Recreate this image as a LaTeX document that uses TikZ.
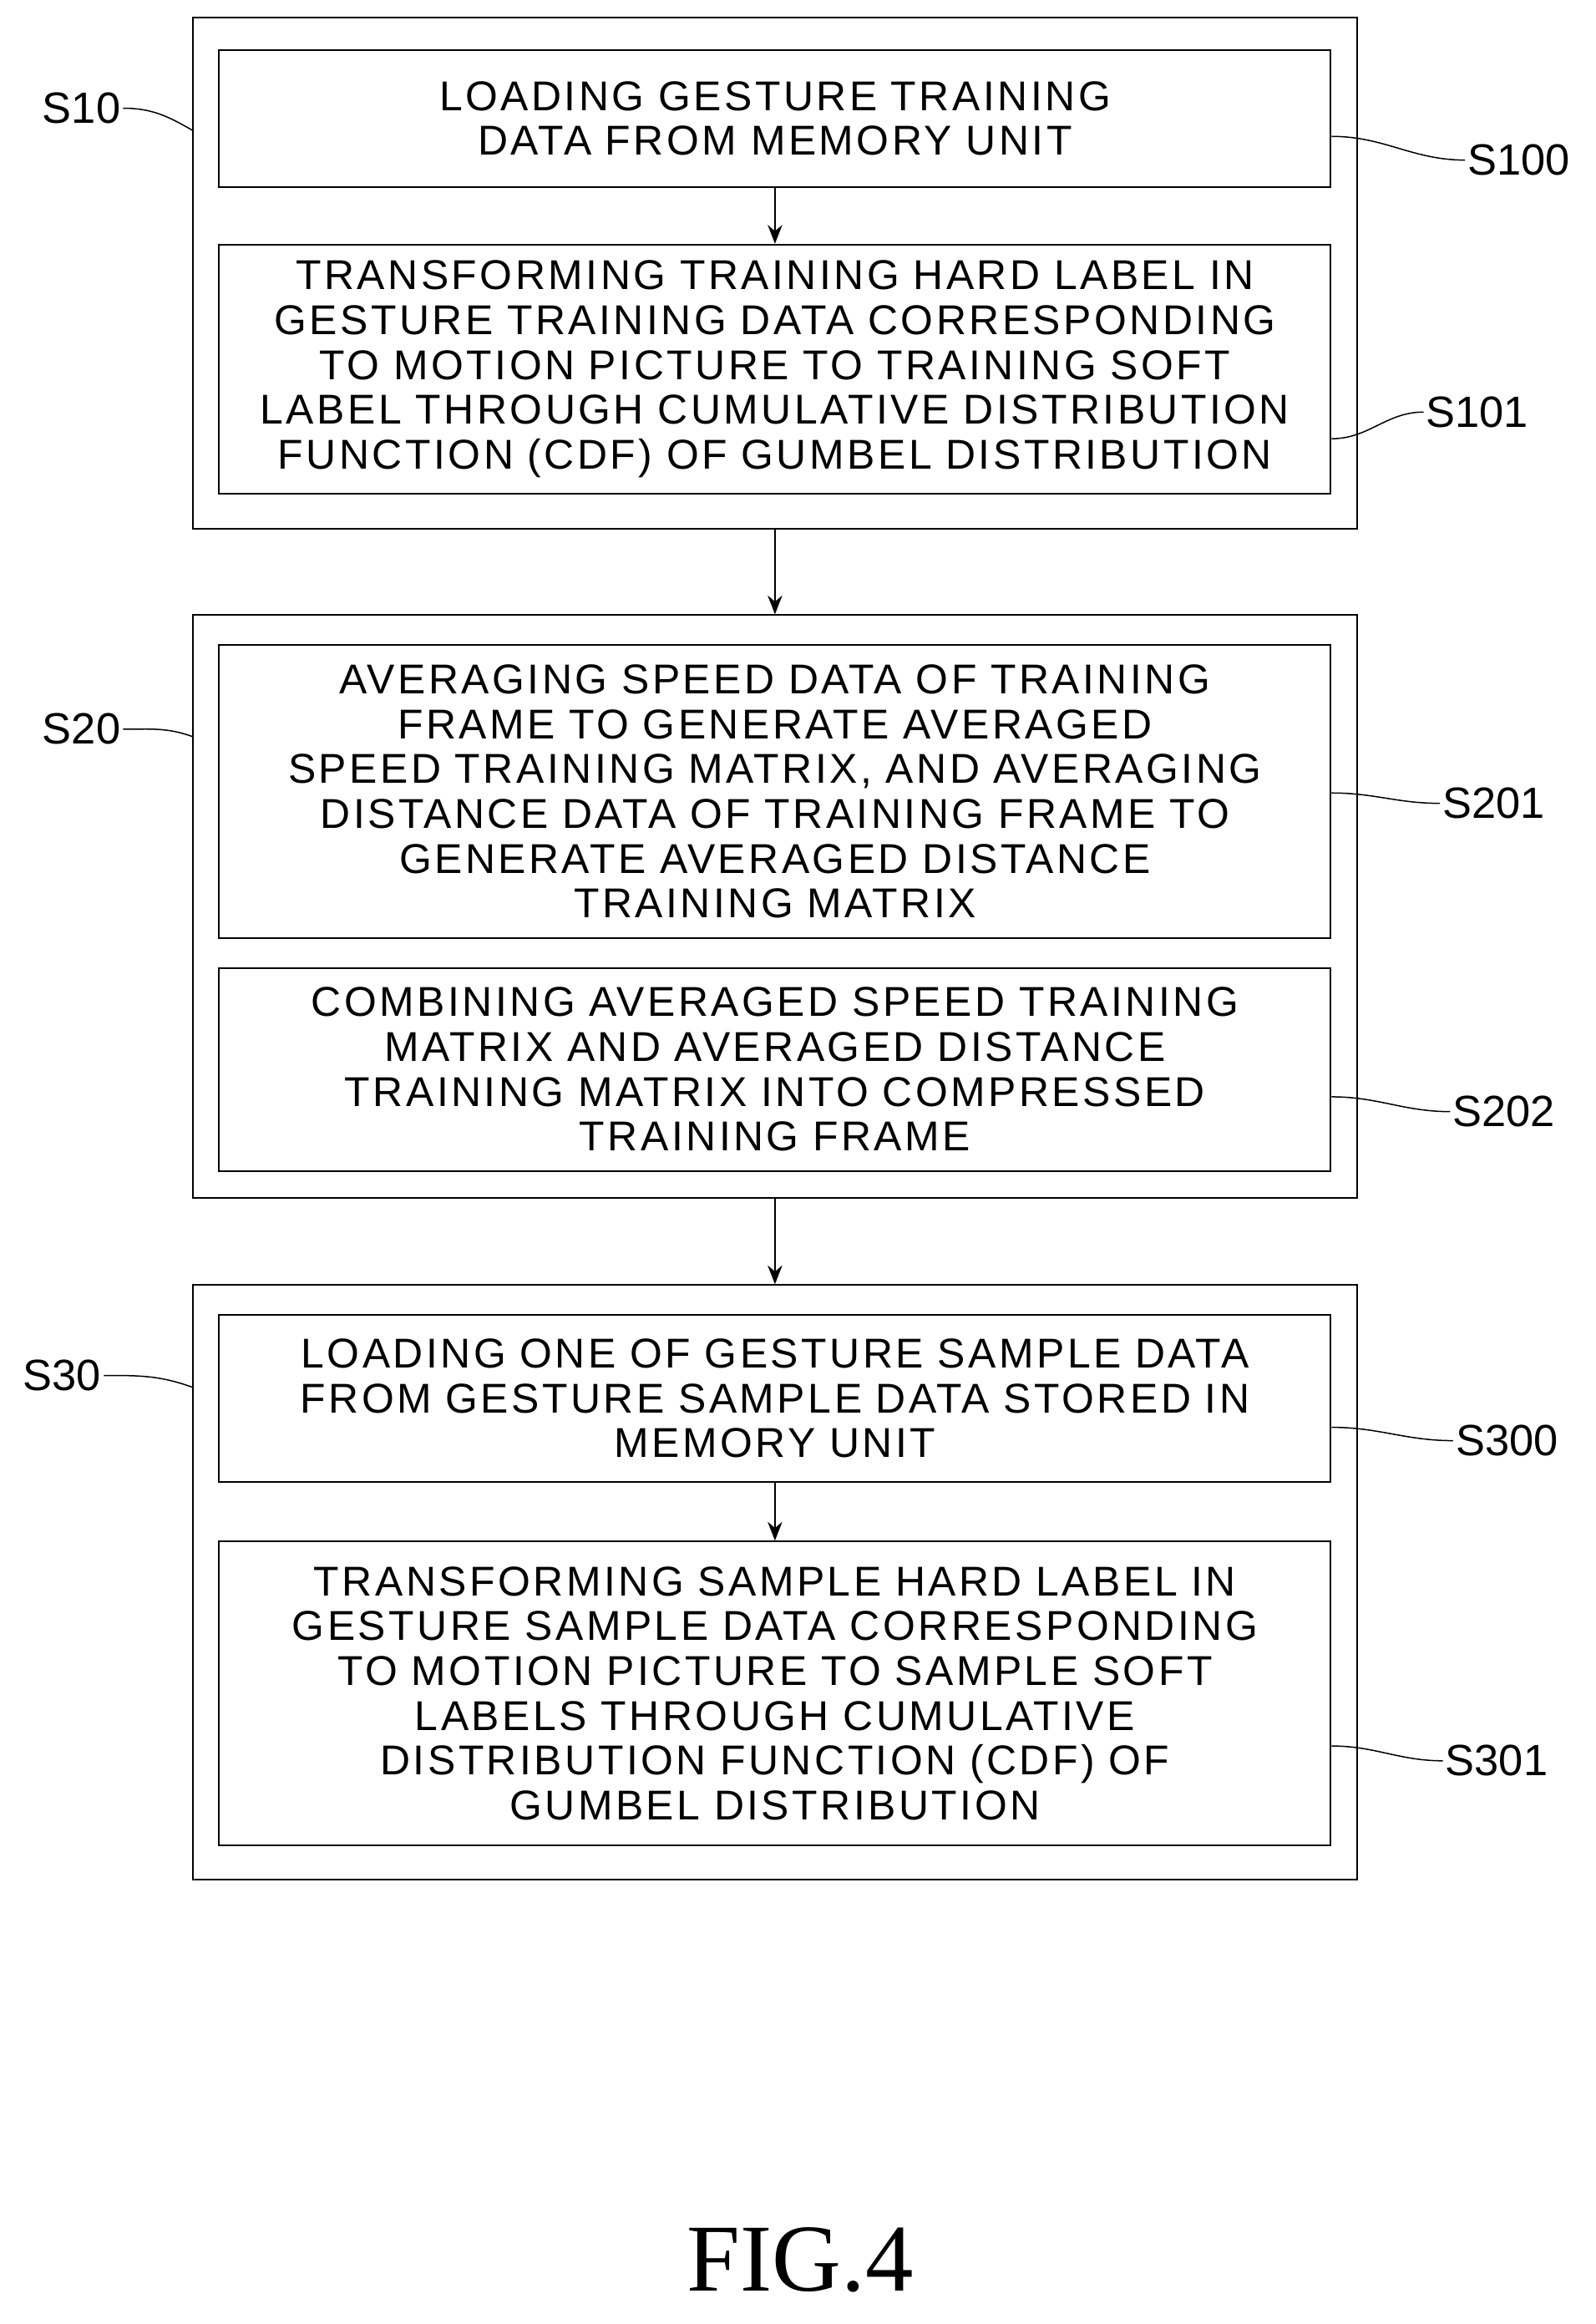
\documentclass[tikz,border=0pt]{standalone}
\usepackage{fontspec}
\setmainfont{Liberation Sans}
\newfontfamily\figfont{Liberation Serif}
\usetikzlibrary{arrows.meta}
\begin{document}
\begin{tikzpicture}[x=0.025cm, y=-0.025cm, >={Stealth[length=9pt,width=7pt]}, semithick,
  outer/.style={draw, thick, rectangle, inner sep=0pt},
  stepbox/.style={draw, thick, rectangle, inner sep=0pt, text width=18.75cm,
               align=center, font=\fontsize{20}{21.5}\selectfont\addfontfeature{LetterSpace=7}},
  tag/.style={font=\fontsize{21}{24}\selectfont, inner sep=1pt}]
\useasboundingbox (0,0) rectangle (1077,1568);
% outer groups
\node[outer, minimum width=786*0.025cm, minimum height=345*0.025cm] (G10) at (523,184.5) {};
\node[outer, minimum width=786*0.025cm, minimum height=393*0.025cm] (G20) at (523,611.5) {};
\node[outer, minimum width=786*0.025cm, minimum height=401*0.025cm] (G30) at (523,1067.5) {};
% steps
\node[stepbox, minimum height=92*0.025cm] (S100) at (523,80)
  {LOADING GESTURE TRAINING\\DATA FROM MEMORY UNIT};
\node[stepbox, minimum height=168*0.025cm] (S101) at (523,249)
  {TRANSFORMING TRAINING HARD LABEL IN\\GESTURE TRAINING DATA CORRESPONDING\\TO MOTION PICTURE TO TRAINING SOFT\\LABEL THROUGH CUMULATIVE DISTRIBUTION\\FUNCTION (CDF) OF GUMBEL DISTRIBUTION};
\node[stepbox, minimum height=198*0.025cm] (S201) at (523,534)
  {AVERAGING SPEED DATA OF TRAINING\\FRAME TO GENERATE AVERAGED\\SPEED TRAINING MATRIX, AND AVERAGING\\DISTANCE DATA OF TRAINING FRAME TO\\GENERATE AVERAGED DISTANCE\\TRAINING MATRIX};
\node[stepbox, minimum height=137*0.025cm] (S202) at (523,721.5)
  {COMBINING AVERAGED SPEED TRAINING\\MATRIX AND AVERAGED DISTANCE\\TRAINING MATRIX INTO COMPRESSED\\TRAINING FRAME};
\node[stepbox, minimum height=113*0.025cm] (S300) at (523,943.5)
  {LOADING ONE OF GESTURE SAMPLE DATA\\FROM GESTURE SAMPLE DATA STORED IN\\MEMORY UNIT};
\node[stepbox, minimum height=205*0.025cm] (S301) at (523,1142.5)
  {TRANSFORMING SAMPLE HARD LABEL IN\\GESTURE SAMPLE DATA CORRESPONDING\\TO MOTION PICTURE TO SAMPLE SOFT\\LABELS THROUGH CUMULATIVE\\DISTRIBUTION FUNCTION (CDF) OF\\GUMBEL DISTRIBUTION};
% flow
\draw[->] (S100) -- (S101);
\draw[->] (G10) -- (G20);
\draw[->] (G20) -- (G30);
\draw[->] (S300) -- (S301);
% reference tags
\node[tag] (t10) at (55,73) {S10};
\node[tag] (t20) at (55,492) {S20};
\node[tag] (t30) at (42,928) {S30};
\node[tag] (t100) at (1025,108) {S100};
\node[tag] (t101) at (997,278) {S101};
\node[tag] (t201) at (1008,542) {S201};
\node[tag] (t202) at (1015,750) {S202};
\node[tag] (t300) at (1017,972) {S300};
\node[tag] (t301) at (1010,1188) {S301};
\coordinate (c10) at (130,88);
\coordinate (c20) at (130,497);
\coordinate (c30) at (130,936);
\draw (t10.east) to[out=0,in=150] (c10);
\draw (t20.east) to[out=0,in=160] (c20);
\draw (t30.east) to[out=0,in=160] (c30);
\draw (S100.east |- 0,92) to[out=0,in=180] (t100.west);
\draw (S101.east |- 0,296) to[out=0,in=180] (t101.west);
\draw (S201.east |- 0,535) to[out=0,in=180] (t201.west);
\draw (S202.east |- 0,740) to[out=0,in=180] (t202.west);
\draw (S300.east |- 0,963) to[out=0,in=180] (t300.west);
\draw (S301.east |- 0,1178) to[out=0,in=180] (t301.west);
\node[font=\figfont\fontsize{46}{50}\selectfont] (fig) at (540,1525) {FIG.4};
\end{tikzpicture}
\end{document}
